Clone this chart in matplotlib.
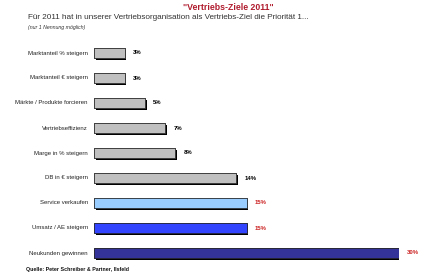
import matplotlib
matplotlib.use('Agg')
import matplotlib.pyplot as plt
import matplotlib.patheffects as pe

plt.rcParams['font.family'] = ['Liberation Sans', 'DejaVu Sans']

# data, top to bottom
categories = ['Marktanteil % steigern', 'Marktanteil € steigern', 'Märkte / Produkte forcieren',
              'Vertriebseffizienz', 'Marge in % steigern', 'DB in € steigern',
              'Service verkaufen', 'Umsatz / AE steigern', 'Neukunden gewinnen']
values = [3, 3, 5, 7, 8, 14, 15, 15, 30]
bar_colors = ['#c0c0c0'] * 6 + ['#99ccff', '#3344ff', '#333399']
label_colors = ['black'] * 6 + ['#cc2222'] * 3

W, H = 425, 277
fig = plt.figure(figsize=(W / 100, H / 100), dpi=100)
fig.patch.set_facecolor('white')

# axes placed in pixel terms: x 94..399 for 0..30, rows 25px apart
ax = fig.add_axes([94 / W, 1 - 265.5 / H, 305 / W, 225 / H])
ax.set_xlim(0, 30)
ax.set_ylim(len(categories) - 0.5, -0.5)
ax.axis('off')

ypos = list(range(len(categories)))
bars = ax.barh(ypos, values, height=0.38, color=bar_colors, edgecolor='#222222', linewidth=0.5)
for b in bars:
    b.set_path_effects([pe.withSimplePatchShadow(offset=(1.3, -1.3), shadow_rgbFace='black', alpha=1.0),
                        pe.Normal()])

for y, v, cat, lc in zip(ypos, values, categories, label_colors):
    ax.text(-0.6, y, cat, ha='right', va='center', fontsize=4.3, color='#222222')
    ax.text(v + 0.8, y, f'{v}%', ha='left', va='center', fontsize=4.3, fontweight='bold', color=lc)

fig.text(228 / W, 1 - 7 / H, '"Vertriebs-Ziele 2011"', ha='center', va='center',
         fontsize=6.3, fontweight='bold', color='#b01c2e')
fig.text(28 / W, 1 - 17.5 / H, 'Für 2011 hat in unserer Vertriebsorganisation als Vertriebs-Ziel die Priorität 1...',
         ha='left', va='center', fontsize=5.9, color='#333333')
fig.text(28 / W, 1 - 28 / H, '(nur 1 Nennung möglich)', ha='left', va='center',
         fontsize=3.8, style='italic', color='#333333')
fig.text(26 / W, 1 - 270 / H, 'Quelle: Peter Schreiber & Partner, Ilsfeld', ha='left', va='center',
         fontsize=3.8, fontweight='bold', color='#111111')

fig.savefig('out.png', dpi=100)
